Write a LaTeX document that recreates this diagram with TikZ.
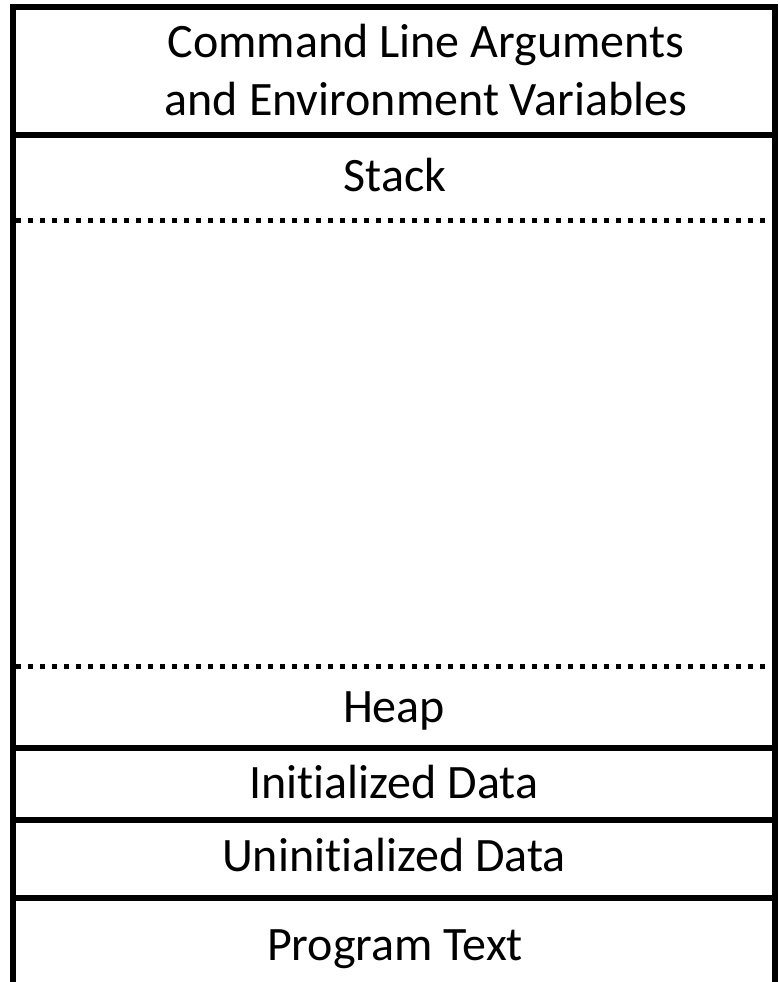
\documentclass[tikz,border=0pt]{standalone}
\usepackage{fontspec}
\setmainfont[Ligatures=NoCommon]{Carlito}
\begin{document}
\begin{tikzpicture}[x=1pt,y=-1pt,
  solidline/.style={line width=5.5pt},
  dotline/.style={line width=5pt,dash pattern=on 4.5pt off 7.5pt},
  label/.style={font=\fontsize{48}{58}\selectfont,anchor=base,inner sep=0pt,align=center}]
\useasboundingbox (0,0) rectangle (779,982);
% outer frame
\coordinate (tl) at (13,7);
\coordinate (tr) at (775,7);
\coordinate (bl) at (13,982);
\coordinate (br) at (775,982);
\draw[solidline] (bl) -- (tl) -- (tr) -- (br);
% separators
\draw[solidline] (13,135) -- (775,135);
\draw[dotline] (16,220) -- (775,220);
\draw[dotline] (16,666) -- (775,666);
\draw[solidline] (13,748) -- (775,748);
\draw[solidline] (13,820) -- (775,820);
\draw[solidline] (13,898) -- (775,898);
% labels
\node[label] (cmd1) at (426,57) {Command Line Arguments};
\node[label] (cmd2) at (426,115) {and Environment Variables};
\node[label] (stack) at (395,191) {Stack};
\node[label] (heap) at (394,722) {Heap};
\node[label] (init) at (394,798) {Initialized Data};
\node[label] (uninit) at (394,871) {Uninitialized Data};
\node[label] (text) at (395,960) {Program Text};
\end{tikzpicture}
\end{document}
